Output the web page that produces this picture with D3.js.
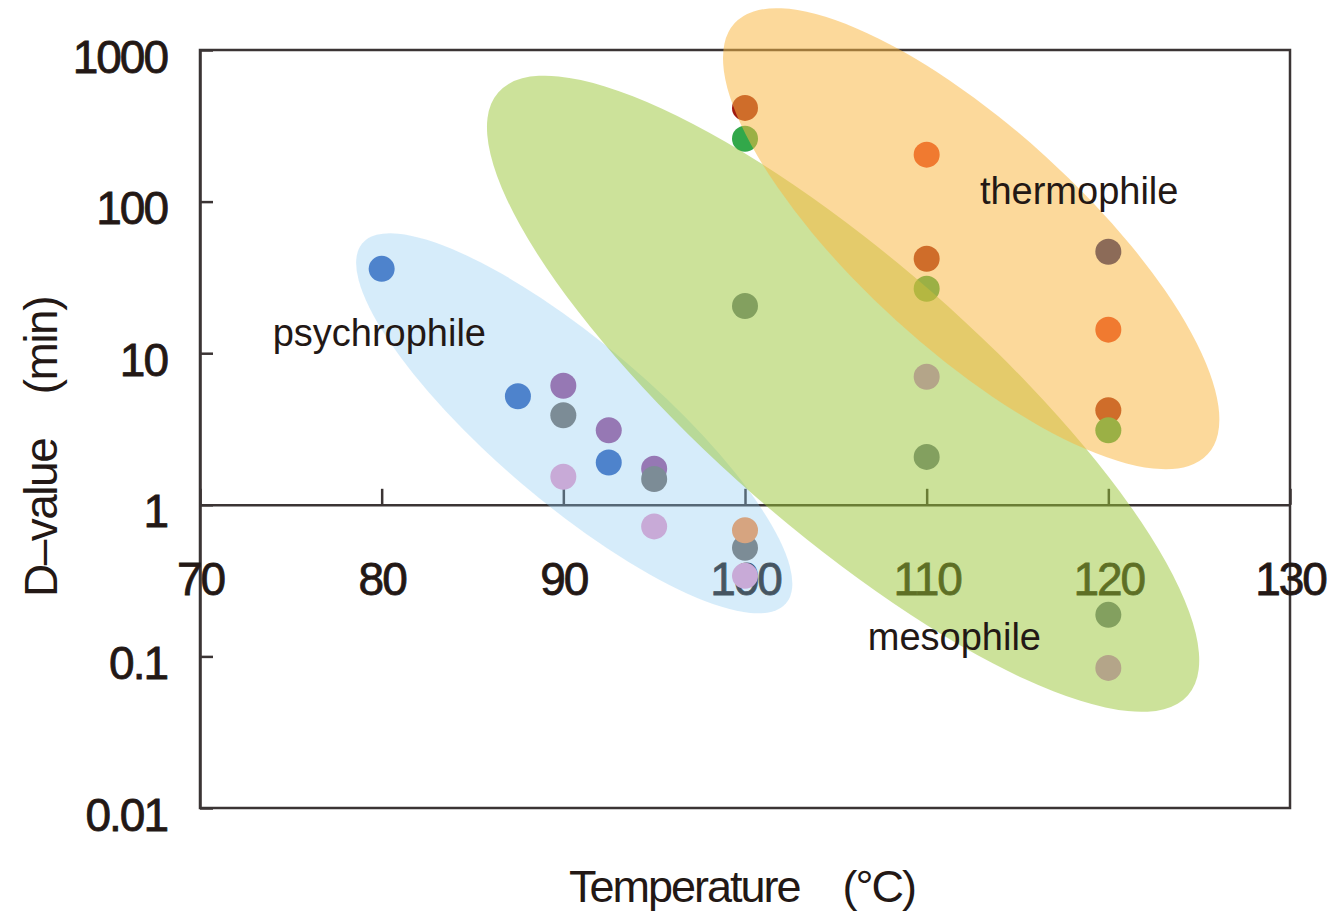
<!DOCTYPE html>
<html>
<head>
<meta charset="utf-8">
<script src="https://cdn.jsdelivr.net/npm/d3@7"></script>
<style>
  html, body { margin: 0; padding: 0; background: #ffffff; }
  svg { display: block; }
  text { font-family: "Liberation Sans", Arial, sans-serif; fill: #231815; }
</style>
</head>
<body>
<svg id="chart" width="1331" height="912"></svg>
<script>
// ---------------- data ----------------
const xTicks = [70, 80, 90, 100, 110, 120, 130];
const yTicks = [0.01, 0.1, 1, 10, 100, 1000];
const yTickLabels = ["0.01", "0.1", "1", "10", "100", "1000"];

// series: temperature (°C) and D-value (min)
const blueT = [80, 87.5, 92.5];          const blueD = [36, 5.2, 1.9];
const purpleT = [90, 92.5, 95];          const purpleD = [6.1, 3.1, 1.73];
const greyT = [90, 95, 100];             const greyD = [3.9, 1.48, 0.52];
const lilacT = [90, 95, 100];            const lilacD = [1.53, 0.72, 0.34];
const salmonT = [100];                   const salmonD = [0.68];
const darkRedT = [100, 110, 120];        const darkRedD = [415, 42, 4.2];
const greenT = [100, 110, 120];          const greenD = [260, 26.6, 3.1];
const slateT = [100, 110, 120];          const slateD = [20.5, 2.07, 0.188];
const orangeT = [110, 120];              const orangeD = [204, 14.3];
const pinkT = [110, 120];                const pinkD = [7.0, 0.084];
const navyT = [120];                     const navyD = [46.7];

const seriesNames = ["blue", "purple", "grey", "lilac", "salmon", "darkRed", "green", "slate", "orange", "pink", "navy"];
const seriesT = [blueT, purpleT, greyT, lilacT, salmonT, darkRedT, greenT, slateT, orangeT, pinkT, navyT];
const seriesD = [blueD, purpleD, greyD, lilacD, salmonD, darkRedD, greenD, slateD, orangeD, pinkD, navyD];

// ---------------- styles ----------------
const seriesColors = {
  blue: "#2e5fb9", purple: "#9d4d94", grey: "#766c66", lilac: "#ea9aca",
  salmon: "#ff9144", darkRed: "#a01a10", green: "#32a84a", slate: "#6d7b89",
  orange: "#e6351c", pink: "#cf84dd", navy: "#111771"
};

// grouping regions (centre in data units, radii in px, rotation in degrees)
const regionNames = ["psychrophile", "mesophile", "thermophile"];
const regionCT = [90.6, 105.4, 112.45];
const regionCD = [3.45, 5.4, 56.9];
const regionRx = [278, 458, 320];
const regionRy = [80, 135, 111];
const regionAngle = [40.35, 41.15, 42.3];
const regionFill = ["rgb(138,201,241)", "rgb(153,197,53)", "rgb(249,183,66)"];
const regionOpacity = [0.35, 0.5, 0.53];
const labelT = [74.0, 106.76, 112.93];
const labelD = [11.2, 0.111, 96.7];

// ---------------- chart ----------------
(function () {
const svg = d3.select("#chart");
const mLeft = 200, mRight = 1290, mTop = 50, mBottom = 808;
const x = d3.scaleLinear().domain([70, 130]).range([mLeft, mRight]);
const y = d3.scaleLog().domain([0.01, 1000]).range([mBottom, mTop]);
const axisColor = "#3b3434";

// frame
svg.append("rect")
  .attr("x", mLeft).attr("y", mTop)
  .attr("width", mRight - mLeft).attr("height", mBottom - mTop)
  .attr("fill", "none").attr("stroke", axisColor).attr("stroke-width", 2.5);

// y axis
const yAxis = d3.axisLeft(y)
  .tickValues(yTicks)
  .tickFormat((d, i) => yTickLabels[i])
  .tickSizeInner(-13).tickSizeOuter(0).tickPadding(33);
const gy = svg.append("g").attr("transform", `translate(${mLeft},0)`).call(yAxis);
gy.select(".domain").attr("stroke", axisColor).attr("stroke-width", 2.5);
gy.selectAll(".tick line").attr("stroke", axisColor).attr("stroke-width", 2.5);
gy.selectAll(".tick text")
  .attr("dy", "0.48em")
  .style("font-size", "46px").style("letter-spacing", "-2px")
  .style("fill", "#231815").style("stroke", "#231815").style("stroke-width", "0.8px");

// x axis drawn at D = 1
const xAxis = d3.axisBottom(x)
  .tickValues(xTicks)
  .tickFormat(d3.format("d"))
  .tickSizeInner(-16).tickSizeOuter(0).tickPadding(58);
const gx = svg.append("g").attr("transform", `translate(0,${y(1)})`).call(xAxis);
gx.select(".domain").attr("stroke", axisColor).attr("stroke-width", 2.5);
gx.selectAll(".tick line").attr("stroke", axisColor).attr("stroke-width", 2.5);
gx.selectAll(".tick text")
  .style("font-size", "46px").style("letter-spacing", "-2px")
  .style("fill", "#231815").style("stroke", "#231815").style("stroke-width", "0.8px");
svg.selectAll("g").attr("font-family", null).attr("font-size", null);

// points
const pts = [];
seriesNames.forEach((name, i) => {
  seriesT[i].forEach((t, j) => pts.push({ name, t, d: seriesD[i][j] }));
});
svg.append("g").selectAll("circle").data(pts).join("circle")
  .attr("cx", p => x(p.t)).attr("cy", p => y(p.d))
  .attr("r", 13)
  .attr("fill", p => seriesColors[p.name]);

// translucent group regions
const regions = regionNames.map((n, i) => ({
  n, t: regionCT[i], d: regionCD[i], rx: regionRx[i], ry: regionRy[i],
  a: regionAngle[i], fill: regionFill[i], op: regionOpacity[i]
}));
svg.append("g").selectAll("ellipse").data(regions).join("ellipse")
  .attr("transform", r => `translate(${x(r.t)},${y(r.d)}) rotate(${r.a})`)
  .attr("rx", r => r.rx).attr("ry", r => r.ry)
  .attr("fill", r => r.fill).attr("fill-opacity", r => r.op);

// region labels
svg.append("g").selectAll("text").data(regionNames).join("text")
  .attr("x", (n, i) => x(labelT[i])).attr("y", (n, i) => y(labelD[i]))
  .style("font-size", "38px")
  .text(n => n);

// axis titles
svg.append("text")
  .attr("x", 742).attr("y", 902)
  .attr("text-anchor", "middle")
  .style("font-size", "45px").style("letter-spacing", "-2px")
  .text("Temperature\u3000(°C)");

svg.append("text")
  .attr("transform", "translate(57,447) rotate(-90)")
  .attr("text-anchor", "middle")
  .style("font-size", "46px").style("letter-spacing", "-1.5px")
  .text("D\u2013value\u3000(min)");
})();
</script>
</body>
</html>
